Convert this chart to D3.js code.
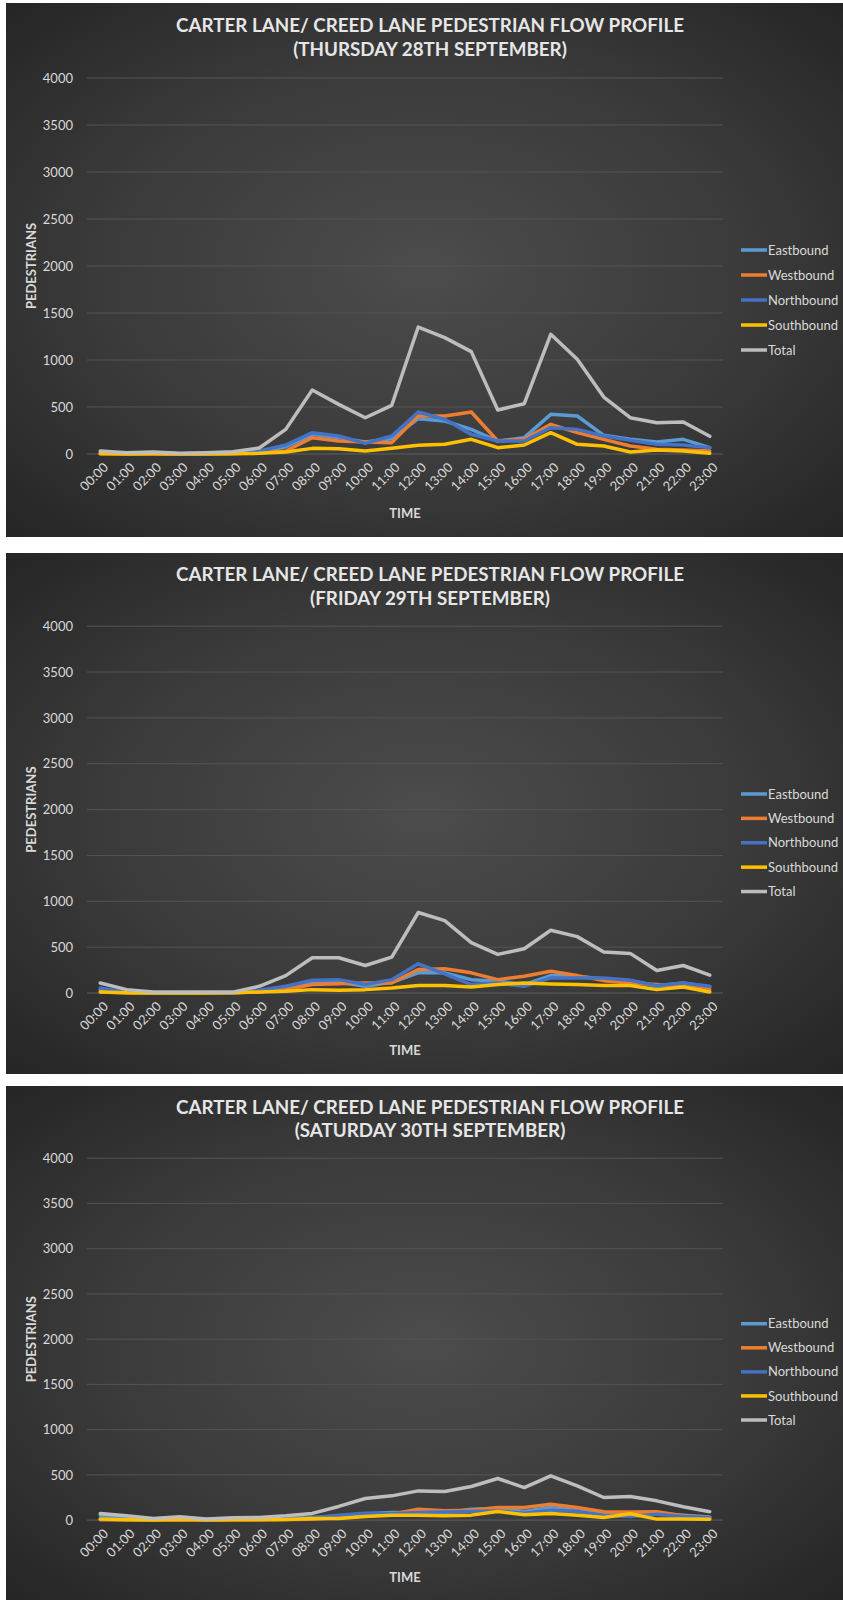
<!DOCTYPE html>
<html>
<head>
<meta charset="utf-8">
<script src="https://cdn.jsdelivr.net/npm/d3@7"></script>
<style>
  html, body { margin: 0; padding: 0; background: #ffffff; }
  svg { display: block; }
  text { font-family: Lato, "Open Sans", "Liberation Sans", sans-serif; }
</style>
</head>
<body>
<svg id="chart" width="843" height="1600"></svg>
<script>
// Hourly time slots on the category axis
const hours = ["00:00","01:00","02:00","03:00","04:00","05:00","06:00","07:00","08:00","09:00","10:00","11:00",
               "12:00","13:00","14:00","15:00","16:00","17:00","18:00","19:00","20:00","21:00","22:00","23:00"];

const seriesNames = ["Eastbound", "Westbound", "Northbound", "Southbound", "Total"];
const yTicks = [0, 500, 1000, 1500, 2000, 2500, 3000, 3500, 4000];

// Thursday 28th September
const thuEastbound  = [10,4,6,2,4,6,21,78,209,174,128,163,376,351,262,138,174,422,404,199,156,128,156,67];
const thuWestbound  = [5,2,3,1,2,4,14,32,174,138,128,121,404,404,447,138,156,316,227,156,85,50,43,32];
const thuNorthbound = [12,5,7,3,5,9,32,96,227,191,113,191,447,369,209,138,138,280,262,191,145,103,96,67];
const thuSouthbound = [3,1,2,0,1,3,7,21,60,57,32,60,92,103,156,67,96,227,103,85,21,43,32,7];
const thuTotal      = [32,14,20,7,14,25,64,262,680,528,386,518,1351,1238,1089,468,535,1273,1007,606,386,333,340,188];

// Friday 29th September
const friEastbound  = [37,5,2,1,1,2,18,62,117,117,73,117,220,220,146,128,92,190,183,154,135,73,110,66];
const friWestbound  = [11,3,1,1,1,2,11,37,92,102,110,110,256,264,220,146,183,238,190,135,110,92,73,37];
const friNorthbound = [55,8,3,2,2,3,30,73,139,146,92,146,318,209,92,110,73,165,165,165,139,81,110,73];
const friSouthbound = [11,2,1,1,1,2,11,18,37,29,37,55,81,81,66,92,110,99,92,81,81,37,66,11];
const friTotal      = [110,37,11,10,10,10,73,190,384,384,300,392,878,790,549,421,483,684,615,447,432,245,300,194];

// Saturday 30th September
const satEastbound  = [55,30,10,15,3,8,10,20,30,40,70,85,80,85,120,129,95,140,103,85,70,66,55,35];
const satWestbound  = [5,3,2,5,1,3,5,8,10,29,48,66,121,103,110,140,140,176,140,92,90,92,48,25];
const satNorthbound = [10,8,4,10,2,10,8,15,25,55,77,70,85,90,95,100,75,110,95,50,40,66,40,25];
const satSouthbound = [11,5,2,8,2,3,5,8,18,18,40,55,55,48,55,96,59,74,55,29,70,11,11,10];
const satTotal      = [74,48,18,37,11,26,29,48,74,151,239,268,323,316,371,460,360,489,379,250,261,213,147,92];

const colors = {
  Eastbound:  "#5B9BD5",
  Westbound:  "#ED7D31",
  Northbound: "#4472C4",
  Southbound: "#FFC000",
  Total:      "#BDBDBD"
};

const panels = [
  { day: "(THURSDAY 28TH SEPTEMBER)", top: 3,    height: 534,
    values: [thuEastbound, thuWestbound, thuNorthbound, thuSouthbound, thuTotal] },
  { day: "(FRIDAY 29TH SEPTEMBER)",   top: 553,  height: 521,
    values: [friEastbound, friWestbound, friNorthbound, friSouthbound, friTotal] },
  { day: "(SATURDAY 30TH SEPTEMBER)", top: 1086, height: 514,
    values: [satEastbound, satWestbound, satNorthbound, satSouthbound, satTotal] }
];

const svg = d3.select("#chart");
const W = 843;
const refH = 534;            // layout is laid out for a 534px-tall panel and stretched per panel
const panelLeft = 6;
const plotLeft = 87, plotRight = 723;

// Background gradient shared by all panels
const defs = svg.append("defs");
const grad = defs.append("radialGradient")
  .attr("id", "panelBg").attr("cx", "50%").attr("cy", "50%").attr("r", "72%");
grad.append("stop").attr("offset", "0%").attr("stop-color", "#4c4c4c");
grad.append("stop").attr("offset", "55%").attr("stop-color", "#3a3a3a");
grad.append("stop").attr("offset", "100%").attr("stop-color", "#242424");

const x = d3.scalePoint().domain(hours).range([plotLeft, plotRight]).padding(0.5);

let titleScale = null;

panels.forEach(p => {
  const k = p.height / refH;
  const Y = rel => p.top + rel * k;
  const g = svg.append("g");

  g.append("rect")
    .attr("x", panelLeft).attr("y", p.top)
    .attr("width", W - panelLeft).attr("height", p.height)
    .attr("fill", "url(#panelBg)");

  const y = d3.scaleLinear().domain([0, 4000]).range([Y(451), Y(75)]);

  // Titles
  const t1 = g.append("text")
    .attr("x", 430).attr("y", Y(29))
    .attr("text-anchor", "middle")
    .attr("fill", "#e6e6e6").attr("font-size", 18).attr("font-weight", 700)
    .text("CARTER LANE/ CREED LANE PEDESTRIAN FLOW PROFILE");
  const t2 = g.append("text")
    .attr("x", 430).attr("y", Y(53))
    .attr("text-anchor", "middle")
    .attr("fill", "#e6e6e6").attr("font-size", 18).attr("font-weight", 700)
    .text(p.day);
  if (titleScale === null) titleScale = 508 / t1.node().getComputedTextLength();
  [t1, t2].forEach(t => {
    const len = t.node().getComputedTextLength();
    t.attr("textLength", len * titleScale).attr("lengthAdjust", "spacingAndGlyphs");
  });

  // Horizontal gridlines
  g.append("g")
    .selectAll("line")
    .data(yTicks)
    .join("line")
    .attr("x1", plotLeft).attr("x2", plotRight)
    .attr("y1", d => y(d)).attr("y2", d => y(d))
    .attr("stroke", d => d === 0 ? "#5e5e5e" : "#545454")
    .attr("stroke-width", 1);

  // Y axis labels
  const yAxis = d3.axisLeft(y).tickValues(yTicks).tickSize(0).tickPadding(0).tickFormat(d3.format("d"));
  const ya = g.append("g").attr("transform", `translate(73,0)`).call(yAxis);
  ya.select(".domain").remove();
  ya.selectAll("text")
    .attr("fill", "#d9d9d9").attr("font-size", 13)
    .attr("font-family", "Lato, 'Open Sans', sans-serif");

  // X axis labels (rotated)
  const xAxis = d3.axisBottom(x).tickSize(0).tickPadding(0);
  const xa = g.append("g").attr("transform", `translate(0,${y(0)})`).call(xAxis);
  xa.select(".domain").remove();
  xa.selectAll("text")
    .attr("fill", "#d9d9d9").attr("font-size", 13)
    .attr("font-family", "Lato, 'Open Sans', sans-serif")
    .attr("text-anchor", "end")
    .attr("dy", null).attr("y", null)
    .attr("transform", "translate(5,11) rotate(-45)")
    .attr("dy", "0.35em");

  // Axis titles
  g.append("text")
    .attr("x", (plotLeft + plotRight) / 2).attr("y", Y(515))
    .attr("text-anchor", "middle")
    .attr("fill", "#d9d9d9").attr("font-size", 13).attr("font-weight", 700)
    .text("TIME");
  g.append("text")
    .attr("transform", `translate(36,${(y(0) + y(4000)) / 2}) rotate(-90)`)
    .attr("text-anchor", "middle")
    .attr("fill", "#d9d9d9").attr("font-size", 13).attr("font-weight", 700)
    .text("PEDESTRIANS");

  // Series lines
  const line = d3.line().x((d, i) => x(hours[i])).y(d => y(d));
  g.append("g")
    .selectAll("path")
    .data(seriesNames.map((name, i) => ({ name, values: p.values[i] })))
    .join("path")
    .attr("d", d => line(d.values))
    .attr("fill", "none")
    .attr("stroke", d => colors[d.name])
    .attr("stroke-width", 3.5)
    .attr("stroke-linejoin", "round")
    .attr("stroke-linecap", "round");

  // Legend
  const lg = g.append("g")
    .selectAll("g")
    .data(seriesNames)
    .join("g")
    .attr("transform", (d, i) => `translate(741,${Y(247 + i * 25)})`);
  lg.append("line")
    .attr("x1", 0).attr("x2", 26).attr("y1", 0).attr("y2", 0)
    .attr("stroke", d => colors[d]).attr("stroke-width", 3.5);
  lg.append("text")
    .attr("x", 27).attr("y", 0).attr("dy", "0.35em")
    .attr("fill", "#d9d9d9").attr("font-size", 13)
    .text(d => d);
});
</script>
</body>
</html>
